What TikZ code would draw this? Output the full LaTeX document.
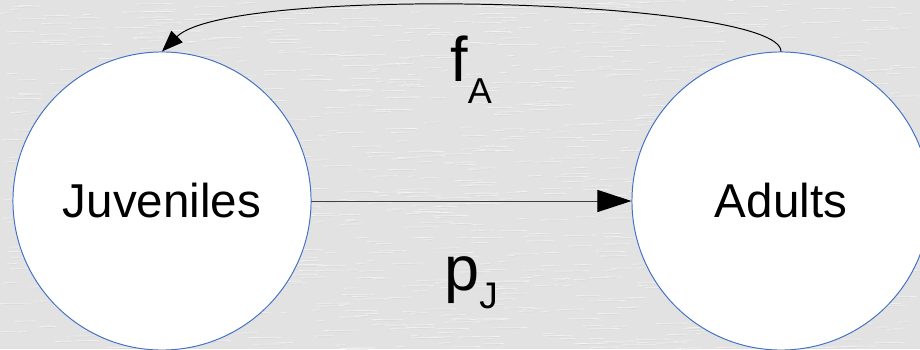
\documentclass[tikz,border=0pt]{standalone}
\usepackage{fontspec}
\setmainfont{Liberation Sans}
\usetikzlibrary{arrows.meta}
\definecolor{circblue}{HTML}{4472C4}
\definecolor{paper}{HTML}{E2E2E2}

\begin{document}
\begin{tikzpicture}[x=0.025cm,y=0.025cm,>={Triangle[length=8.5mm,width=5.5mm,color=black]},line cap=round,
  stage/.style={circle,draw=circblue,line width=0.7pt,fill=white,minimum size=7.45cm,inner sep=0pt,font=\fontsize{33.8}{40}\selectfont},
  rate/.style={anchor=base west,inner sep=0pt,font=\fontsize{44.8}{50}\selectfont}]
\useasboundingbox (0,0) rectangle (920,349);
\fill[paper] (0,0) rectangle (920,349);
\pgfmathsetseed{7}
\foreach \i in {1,...,1200}{
  \pgfmathsetmacro{\xa}{rnd*900}
  \pgfmathsetmacro{\ya}{rnd*349}
  \pgfmathsetmacro{\la}{6+rnd*30}
  \draw[white,line width=0.45pt,opacity=0.5] (\xa,\ya) -- ++(\la,0.4);
  \draw[gray!40,line width=0.35pt,opacity=0.4] (\xa+4,\ya-1) -- ++(\la*0.7,0.3);
}
\node[stage] (juv) at (162,148) {Juveniles};
\node[stage] (adu) at (781,148) {Adults};
\draw[->,line width=0.7pt,black!75] (juv) -- (adu);
\draw[-{Triangle[length=5.3mm,width=4mm]},line width=0.7pt] (adu.north) .. controls (781,350) and (230,365) .. (juv.north);
\node[rate] (fA) at (450,267) {f\raisebox{-15pt}{\fontsize{25.6}{30}\selectfont A}};
\node[rate] (pJ) at (444,59) {p\raisebox{-13.5pt}{\fontsize{26.3}{30}\selectfont J}};
\end{tikzpicture}
\end{document}
